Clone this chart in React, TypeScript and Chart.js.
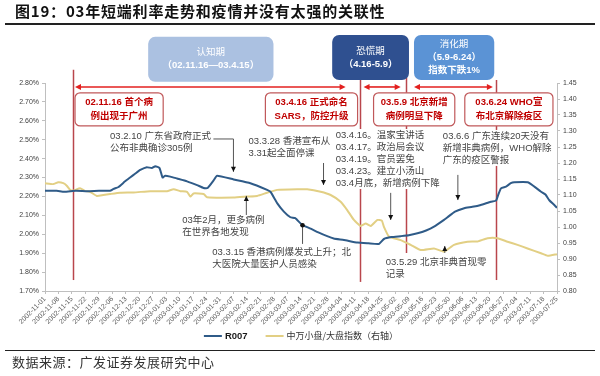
import React, { useEffect, useRef } from "react";
import { Chart, registerables } from "chart.js";

Chart.register(...registerables);

// ---------- data ----------
// x values are calendar days counted from 2002-11-01
const dateLabels = [
  "2002-11-01", "2002-11-08", "2002-11-15", "2002-11-22", "2002-11-29",
  "2002-12-06", "2002-12-13", "2002-12-20", "2002-12-27",
  "2003-01-03", "2003-01-10", "2003-01-17", "2003-01-24", "2003-01-31",
  "2003-02-07", "2003-02-14", "2003-02-21", "2003-02-28",
  "2003-03-07", "2003-03-14", "2003-03-21", "2003-03-28",
  "2003-04-04", "2003-04-11", "2003-04-18", "2003-04-25",
  "2003-05-02", "2003-05-09", "2003-05-16", "2003-05-23", "2003-05-30",
  "2003-06-06", "2003-06-13", "2003-06-20", "2003-06-27",
  "2003-07-04", "2003-07-11", "2003-07-18", "2003-07-25",
];

const r007Day = [
  0, 6, 10, 16, 22, 28, 33.8, 35.6, 38.2, 41.6, 44.2, 46.8, 49.5, 52.9, 55.5, 57.3,
  59.5, 61.1, 62.5, 65.1, 68.6, 73.8, 79.0, 82.4, 84.5, 87.6, 89.4, 98.0, 106.7, 115.4,
  117.1, 120.6, 124.1, 127.5, 130, 133.6, 138, 142, 146.6, 150, 155.3, 162.3, 168, 173.5,
  176.1, 180, 184.8, 189, 193.5, 198, 202.1, 207.3, 209.1, 213, 217.8, 222, 226.4, 231.6,
  234.3, 235.5, 236.9, 239.5, 242, 243.8, 250.8, 254.2, 257.7, 260, 262, 264.6, 266,
];
const r007Rate = [
  2.23, 2.23, 2.225, 2.23, 2.228, 2.23, 2.23, 2.24, 2.25, 2.28, 2.30, 2.32, 2.34, 2.355, 2.35, 2.36,
  2.35, 2.30, 2.31, 2.305, 2.295, 2.28, 2.26, 2.245, 2.245, 2.285, 2.31, 2.29, 2.27, 2.235,
  2.225, 2.165, 2.12, 2.09, 2.085, 2.05, 2.03, 2.01, 1.99, 1.978, 1.97, 1.956, 1.952, 1.949,
  1.975, 1.985, 1.99, 1.995, 2.005, 2.02, 2.04, 2.076, 2.09, 2.12, 2.138, 2.145, 2.155, 2.172,
  2.178, 2.21, 2.243, 2.252, 2.27, 2.275, 2.275, 2.252, 2.225, 2.21, 2.18, 2.155, 2.14,
];

const ratioDay = [
  0, 4.3, 6.9, 9.5, 11.3, 13, 14.7, 18.2, 20.8, 23.4, 26.9, 30.3, 33.8, 39, 46, 54.7,
  63.4, 66.8, 70.3, 73.8, 75.5, 77.2, 82.4, 84.2, 98, 105, 110.2, 115.4, 120.6, 132.7,
  136.2, 143.2, 148.4, 153.6, 157, 160.5, 164, 166.6, 169.2, 172.7, 175, 176.1, 178.7,
  184.8, 190, 195.2, 202.1, 207.3, 212.5, 219.5, 224.7, 229.9, 235.1, 240.3, 245.5,
  250.7, 257.7, 261.2, 266,
];
const ratioValue = [
  1.137, 1.134, 1.14, 1.137, 1.129, 1.116, 1.114, 1.121, 1.113, 1.11, 1.097, 1.10, 1.103, 1.107, 1.108, 1.112,
  1.112, 1.118, 1.112, 1.11, 1.095, 1.105, 1.103, 1.093, 1.092, 1.095, 1.097, 1.107, 1.116, 1.118,
  1.118, 1.11, 1.10, 1.079, 1.053, 1.022, 1.003, 1.011, 1.003, 1.022, 1.02, 1.00, 0.97,
  0.959, 0.944, 0.928, 0.933, 0.923, 0.944, 0.954, 0.955, 0.965, 0.965, 0.954, 0.944,
  0.933, 0.918, 0.91, 0.915,
];

// ---------- annotations (x in days, y in left-axis %) ----------
const phaseLines = [
  { day: 14.6, top: 2.87, bottom: 1.758 },
  { day: 163.8, top: 2.816, bottom: 1.748 },
  { day: 187.4, top: 2.83, bottom: 1.901 },
  { day: 234.5, top: 2.816, bottom: 1.758 },
];
const periodArrowLevel = 2.779;
const periodArrows = [
  [15.6, 156.2],
  [165.5, 184.8],
  [191.7, 232.7],
];
const phaseBoxes = [
  { from: 53.6, to: 118.7, top: 3.044, bottom: 2.806, fill: "#abc1e1", lines: ["认知期", "（02.11.16—03.4.15）"] },
  { from: 149.2, to: 189.1, top: 3.054, bottom: 2.816, fill: "#2f5090", lines: ["恐慌期", "（4.16-5.9）"] },
  { from: 191.7, to: 233.4, top: 3.054, bottom: 2.816, fill: "#5b93d5", lines: ["消化期", "（5.9-6.24）", "指数下跌1%"] },
];
const eventTop = 2.748;
const eventBottom = 2.573;
const eventBoxes = [
  { from: 15.6, to: 61.4, lines: ["02.11.16 首个病", "例出现于广州"] },
  { from: 114.5, to: 162.4, lines: ["03.4.16 正式命名", "SARS，防控升级"] },
  { from: 170.7, to: 212.9, lines: ["03.5.9 北京新增", "病例明显下降"] },
  { from: 218.1, to: 263.9, lines: ["03.6.24 WHO宣", "布北京解除疫区"] },
];
const notes = [
  { day: 33.8, at: 2.518, lines: ["03.2.10 广东省政府正式", "公布非典确诊305例"] },
  { day: 105.7, at: 2.491, lines: ["03.3.28 香港宣布从", "3.31起全面停课"] },
  { day: 151, at: 2.525, lines: ["03.4.16。温家宝讲话", "03.4.17。政治局会议", "03.4.19。官员罢免", "03.4.23。建立小汤山", "03.4月底，新增病例下降"] },
  { day: 206.7, at: 2.52, lines: ["03.6.6 广东连续20天没有", "新增非典病例，WHO解除", "广东的疫区警报"] },
  { day: 71.3, at: 2.076, lines: ["03年2月，更多病例", "在世界各地发现"] },
  { day: 86.9, at: 1.903, lines: ["03.3.15 香港病例爆发式上升；北", "大医院大量医护人员感染"] },
  { day: 177, at: 1.85, lines: ["03.5.29 北京非典首现零", "记录"] },
];
const pointers = [
  { pts: [[87.5, 2.504], [97.9, 2.504], [97.9, 2.33]], dot: false },
  { pts: [[144.7, 2.377], [144.7, 2.261]], dot: false },
  { pts: [[179.6, 2.219], [179.6, 2.076]], dot: false },
  { pts: [[214.5, 2.314], [214.5, 2.181]], dot: false },
  { pts: [[104.6, 2.102], [104.6, 2.203]], dot: false },
  { pts: [[133.8, 1.949], [133.8, 2.048]], dot: true },
  { pts: [[207.7, 1.901], [207.7, 1.938]], dot: false },
];

const BLUE = "#2f5b88";
const YELLOW = "#e2cf84";
const RED_LINE = "#b9464c";
const RED_ARROW = "#e3201f";
const NOTE_FONT = '9.5px "Liberation Sans", "Noto Sans CJK SC", sans-serif';
const TICK_FONT = { family: '"Liberation Sans", Arial, sans-serif', size: 7 };

function head(ctx: CanvasRenderingContext2D, fx: number, fy: number, tx: number, ty: number, len: number, half: number) {
  const a = Math.atan2(ty - fy, tx - fx);
  const c = Math.cos(a), s = Math.sin(a);
  ctx.beginPath();
  ctx.moveTo(tx, ty);
  ctx.lineTo(tx - len * c + half * s, ty - len * s - half * c);
  ctx.lineTo(tx - len * c - half * s, ty - len * s + half * c);
  ctx.closePath();
  ctx.fill();
}

const notesPlugin = {
  id: "sarsNotes",
  beforeDatasetsDraw(chart: any) {
    const ctx: CanvasRenderingContext2D = chart.ctx;
    const X = (d: number) => chart.scales.x.getPixelForValue(d);
    const Y = (v: number) => chart.scales.y.getPixelForValue(v);
    ctx.save();
    ctx.strokeStyle = RED_LINE;
    ctx.lineWidth = 1.5;
    for (const l of phaseLines) {
      const x = Math.round(X(l.day)) + 0.5;
      ctx.beginPath();
      ctx.moveTo(x, Y(l.top));
      ctx.lineTo(x, Y(l.bottom));
      ctx.stroke();
    }
    ctx.restore();
  },
  afterDraw(chart: any) {
    const ctx: CanvasRenderingContext2D = chart.ctx;
    const X = (d: number) => chart.scales.x.getPixelForValue(d);
    const Y = (v: number) => chart.scales.y.getPixelForValue(v);
    ctx.save();

    // phase boxes
    for (const b of phaseBoxes) {
      const x1 = X(b.from), x2 = X(b.to), y1 = Y(b.top), y2 = Y(b.bottom);
      ctx.fillStyle = b.fill;
      ctx.beginPath();
      (ctx as any).roundRect(x1, y1, x2 - x1, y2 - y1, 7);
      ctx.fill();
      ctx.fillStyle = "#ffffff";
      ctx.textAlign = "center";
      ctx.textBaseline = "middle";
      const lh = 13;
      const cy = (y1 + y2) / 2 - ((b.lines.length - 1) * lh) / 2;
      b.lines.forEach((t, i) => {
        ctx.font = (i === 0 ? "" : "bold ") + '9.5px "Liberation Sans", "Noto Sans CJK SC", sans-serif';
        ctx.fillText(t, (x1 + x2) / 2, cy + i * lh);
      });
    }

    // red period arrows
    ctx.strokeStyle = RED_ARROW;
    ctx.fillStyle = RED_ARROW;
    ctx.lineWidth = 1.6;
    const ya = Y(periodArrowLevel);
    for (const [a, b] of periodArrows) {
      const xa = X(a), xb = X(b);
      ctx.beginPath();
      ctx.moveTo(xa + 3, ya);
      ctx.lineTo(xb - 3, ya);
      ctx.stroke();
      head(ctx, xb - 5, ya, xb, ya, 6, 3);
      head(ctx, xa + 5, ya, xa, ya, 6, 3);
    }

    // event boxes
    for (const b of eventBoxes) {
      const x1 = X(b.from), x2 = X(b.to), y1 = Y(eventTop), y2 = Y(eventBottom);
      ctx.fillStyle = "#ffffff";
      ctx.strokeStyle = "#c0585a";
      ctx.lineWidth = 1.2;
      ctx.beginPath();
      (ctx as any).roundRect(x1, y1, x2 - x1, y2 - y1, 5);
      ctx.fill();
      ctx.stroke();
      ctx.fillStyle = "#c00000";
      ctx.font = 'bold 9.5px "Liberation Sans", "Noto Sans CJK SC", sans-serif';
      ctx.textAlign = "center";
      ctx.textBaseline = "middle";
      const lh = 14;
      const cy = (y1 + y2) / 2 - lh / 2;
      b.lines.forEach((t, i) => ctx.fillText(t, (x1 + x2) / 2, cy + i * lh));
    }

    // notes
    ctx.font = NOTE_FONT;
    ctx.textAlign = "left";
    ctx.textBaseline = "middle";
    for (const n of notes) {
      const x = X(n.day);
      const y0 = Y(n.at);
      n.lines.forEach((t, i) => {
        const w = ctx.measureText(t).width;
        ctx.fillStyle = "#ffffff";
        ctx.fillRect(x - 1, y0 + i * 12 - 6, w + 2, 12);
      });
      ctx.fillStyle = "#444444";
      n.lines.forEach((t, i) => ctx.fillText(t, x, y0 + i * 12));
    }

    // pointers
    ctx.strokeStyle = "#555555";
    ctx.fillStyle = "#111111";
    ctx.lineWidth = 1;
    for (const p of pointers) {
      const pts = p.pts.map(([d, v]) => [X(d), Y(v)]);
      ctx.beginPath();
      pts.forEach(([x, y], i) => (i === 0 ? ctx.moveTo(x, y) : ctx.lineTo(x, y)));
      ctx.stroke();
      const [fx, fy] = pts[pts.length - 2];
      const [tx, ty] = pts[pts.length - 1];
      if (p.dot) {
        ctx.beginPath();
        ctx.arc(tx, ty, 2.3, 0, Math.PI * 2);
        ctx.fill();
      } else {
        head(ctx, fx, fy, tx, ty, 5, 2.5);
      }
    }

    // legend
    const area = chart.chartArea;
    const ly = area.bottom + 45;
    const sets = chart.data.datasets;
    ctx.textBaseline = "middle";
    ctx.textAlign = "left";
    const fonts = ['bold 9.5px "Liberation Sans", Arial, sans-serif', '9px "Noto Sans CJK SC", sans-serif'];
    const widths = sets.map((ds: any, i: number) => {
      ctx.font = fonts[i];
      return ctx.measureText(ds.label).width;
    });
    const lineW = 18, gap1 = 3, gap2 = 18;
    const total = lineW + gap1 + widths[0] + gap2 + lineW + gap1 + widths[1];
    let lx = (area.left + area.right) / 2 - total / 2;
    sets.forEach((ds: any, i: number) => {
      ctx.strokeStyle = ds.borderColor;
      ctx.lineWidth = 2;
      ctx.beginPath();
      ctx.moveTo(lx, ly);
      ctx.lineTo(lx + lineW, ly);
      ctx.stroke();
      lx += lineW + gap1;
      ctx.font = fonts[i];
      ctx.fillStyle = i === 0 ? "#1a1a1a" : "#333333";
      ctx.fillText(ds.label, lx, ly);
      lx += widths[i] + gap2;
    });

    ctx.restore();
  },
};

export default function App() {
  const ref = useRef<HTMLCanvasElement>(null);
  useEffect(() => {
    const canvas = ref.current;
    if (!canvas) return;
    const chart = new Chart(canvas, {
      type: "line",
      data: {
        datasets: [
          {
            label: "R007",
            data: r007Day.map((d, i) => ({ x: d, y: r007Rate[i] })),
            borderColor: BLUE,
            backgroundColor: BLUE,
            borderWidth: 2,
            pointRadius: 0,
            tension: 0.15,
            yAxisID: "y",
          },
          {
            label: "中万小盘/大盘指数（右轴）",
            data: ratioDay.map((d, i) => ({ x: d, y: ratioValue[i] })),
            borderColor: YELLOW,
            backgroundColor: YELLOW,
            borderWidth: 2,
            pointRadius: 0,
            tension: 0.15,
            yAxisID: "y1",
          },
        ],
      },
      options: {
        responsive: false,
        maintainAspectRatio: false,
        animation: false,
        devicePixelRatio: 1,
        layout: { padding: { top: 83, bottom: 40, left: 0, right: 0 } },
        plugins: { legend: { display: false }, tooltip: { enabled: false } },
        scales: {
          x: {
            type: "linear",
            min: 0,
            max: (dateLabels.length - 1) * 7,
            afterBuildTicks: (axis: any) => {
              axis.ticks = dateLabels.map((_, i) => ({ value: i * 7 }));
            },
            afterFit: (s: any) => {
              s.height = 45;
            },
            ticks: {
              autoSkip: false,
              minRotation: 45,
              maxRotation: 45,
              padding: 1,
              font: TICK_FONT,
              color: "#595959",
              callback: (_v: any, i: number) => dateLabels[i],
            },
            grid: { drawOnChartArea: false, tickLength: 3, color: "#bfbfbf", tickColor: "#bfbfbf" },
            border: { color: "#bfbfbf" },
          },
          y: {
            position: "left",
            min: 1.7,
            max: 2.8,
            afterFit: (s: any) => {
              s.width = 45;
            },
            ticks: {
              stepSize: 0.1,
              padding: 3,
              font: TICK_FONT,
              color: "#404040",
              callback: (v: any) => Number(v).toFixed(2) + "%",
            },
            grid: { drawOnChartArea: false, tickLength: 3, color: "#bfbfbf", tickColor: "#bfbfbf" },
            border: { color: "#bfbfbf" },
          },
          y1: {
            position: "right",
            min: 0.8,
            max: 1.45,
            afterFit: (s: any) => {
              s.width = 43;
            },
            ticks: {
              stepSize: 0.05,
              padding: 3,
              font: TICK_FONT,
              color: "#404040",
              callback: (v: any) => Number(v).toFixed(2),
            },
            grid: { drawOnChartArea: false, tickLength: 3, color: "#bfbfbf", tickColor: "#bfbfbf" },
            border: { color: "#bfbfbf" },
          },
        },
      } as any,
      plugins: [notesPlugin],
    });
    return () => chart.destroy();
  }, []);

  return (
    <div style={{ position: "fixed", left: 0, top: 0, width: 600, height: 376, background: "#ffffff", overflow: "hidden" }}>
      <canvas ref={ref} width={600} height={376} style={{ position: "absolute", left: 0, top: 0, width: 600, height: 376 }} />
      <div
        style={{
          position: "absolute",
          left: 15,
          top: 1,
          fontFamily: '"Noto Sans CJK SC", sans-serif',
          fontWeight: 700,
          fontSize: 15,
          letterSpacing: 0.8,
          lineHeight: "20px",
          color: "#111111",
          whiteSpace: "nowrap",
        }}
      >
        图19：03年短端利率走势和疫情并没有太强的关联性
      </div>
      <div style={{ position: "absolute", left: 5, top: 23, width: 590, height: 2, background: "#222222" }} />
      <div style={{ position: "absolute", left: 5, top: 350, width: 590, height: 1, background: "#222222" }} />
      <div
        style={{
          position: "absolute",
          left: 12,
          top: 353,
          fontFamily: '"Noto Sans CJK SC", sans-serif',
          fontSize: 13,
          letterSpacing: 0.5,
          lineHeight: "18px",
          color: "#333333",
          whiteSpace: "nowrap",
        }}
      >
        数据来源：广发证券发展研究中心
      </div>
    </div>
  );
}
